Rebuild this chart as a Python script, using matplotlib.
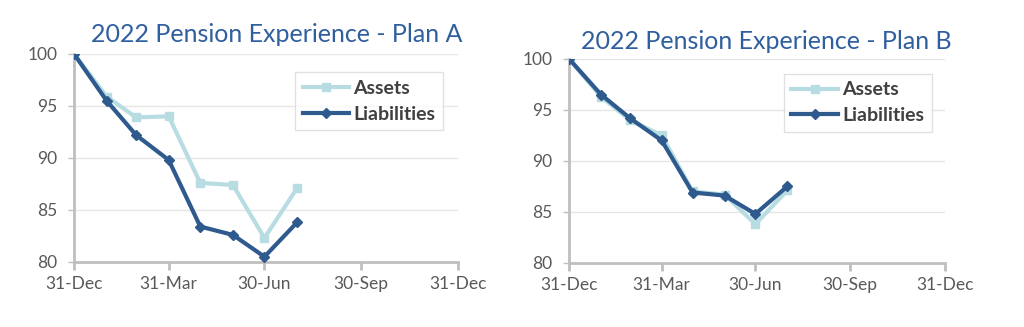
import matplotlib
matplotlib.use("Agg")
import matplotlib.pyplot as plt

plt.rcParams["font.family"] = ["Lato", "DejaVu Sans"]

# days since 31-Dec for each month-end observation
days = [0, 31, 59, 90, 120, 151, 181, 212]

plan_a_assets = [100, 95.9, 93.9, 94.0, 87.6, 87.4, 82.3, 87.1]
plan_a_liabs = [100, 95.5, 92.2, 89.8, 83.4, 82.6, 80.5, 83.8]

plan_b_assets = [100, 96.3, 94.0, 92.5, 87.0, 86.7, 83.8, 87.1]
plan_b_liabs = [100, 96.5, 94.2, 92.0, 86.9, 86.6, 84.8, 87.5]

tick_days = [0, 90, 181, 273, 365]
tick_labels = ["31-Dec", "31-Mar", "30-Jun", "30-Sep", "31-Dec"]
y_ticks = [80, 85, 90, 95, 100]

ASSET_COL = "#B7DDE3"
LIAB_COL = "#2E5A8E"
TITLE_COL = "#2F5F9E"
GRID_COL = "#E6E6E6"
AXIS_COL = "#BFBFBF"
TEXT_COL = "#595959"


def draw_panel(ax, assets, liabs, title, title_xy, legend_box):
    ax.plot(days, assets, color=ASSET_COL, lw=3, marker="s", ms=6,
            label="Assets", zorder=3)
    ax.plot(days, liabs, color=LIAB_COL, lw=3, marker="D", ms=5,
            label="Liabilities", zorder=4)
    ax.set_xlim(0, 365)
    ax.set_ylim(80, 100)
    ax.set_xticks(tick_days)
    ax.set_xticklabels(tick_labels)
    ax.set_yticks(y_ticks)
    ax.grid(axis="y", color=GRID_COL, lw=1)
    ax.set_axisbelow(True)
    for side in ("top", "right"):
        ax.spines[side].set_visible(False)
    for side in ("left", "bottom"):
        ax.spines[side].set_color(AXIS_COL)
        ax.spines[side].set_linewidth(2)
    ax.tick_params(axis="x", colors=AXIS_COL, length=6, width=2,
                   labelcolor=TEXT_COL, labelsize=12.5, pad=4)
    ax.tick_params(axis="y", colors=AXIS_COL, length=4, width=1,
                   labelcolor=TEXT_COL, labelsize=12.5, pad=8)
    ax.figure.text(title_xy[0], title_xy[1], title, color=TITLE_COL,
                   fontsize=18, ha="center", va="center")
    leg = ax.legend(loc="upper left", bbox_to_anchor=legend_box,
                    frameon=True, fancybox=False, handlelength=2.4,
                    handletextpad=0.2, borderpad=0.4, labelspacing=0.45,
                    prop={"weight": "bold", "size": 14})
    leg.get_frame().set_edgecolor("#D9D9D9")
    leg.get_frame().set_linewidth(1)
    for t in leg.get_texts():
        t.set_color("#404040")


fig = plt.figure(figsize=(10.24, 3.27), dpi=100)
ax1 = fig.add_axes([0.0723, 0.199, 0.375, 0.636])
ax2 = fig.add_axes([0.5557, 0.196, 0.367, 0.624])

draw_panel(ax1, plan_a_assets, plan_a_liabs,
           "2022 Pension Experience - Plan A", (0.270, 0.893),
           (0.55, 0.96))
draw_panel(ax2, plan_b_assets, plan_b_liabs,
           "2022 Pension Experience - Plan B", (0.748, 0.872),
           (0.545, 0.975))

fig.savefig("out.png", dpi=100)
